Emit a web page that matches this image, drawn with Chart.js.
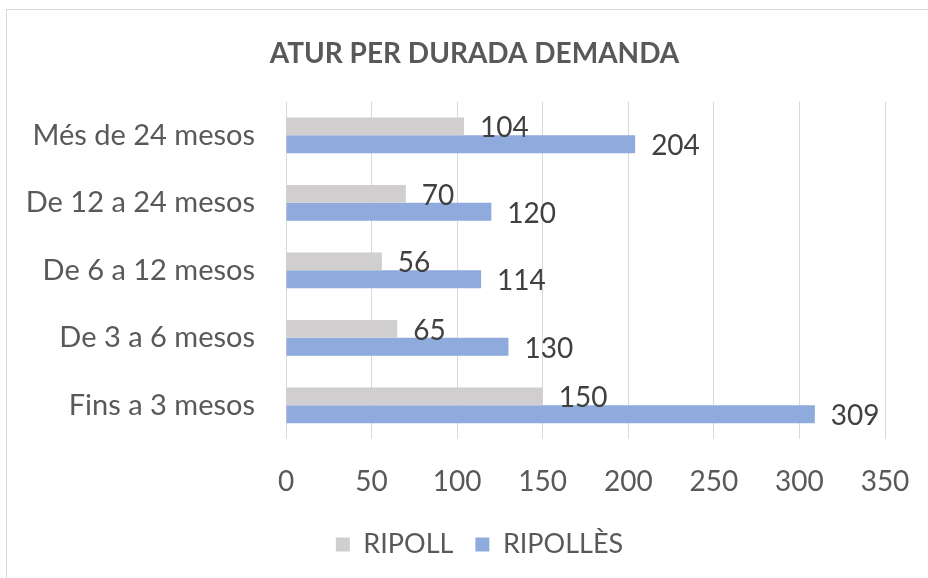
<!DOCTYPE html>
<html>
<head>
<meta charset="utf-8">
<script src="https://cdn.jsdelivr.net/npm/chart.js@4"></script>
<style>
  html, body { margin: 0; padding: 0; background: #fff; }
  #wrap { width: 928px; height: 578px; }
</style>
</head>
<body>
<div id="wrap"><canvas id="chart" width="928" height="578"></canvas></div>
<script>
const categories = ["Més de 24 mesos", "De 12 a 24 mesos", "De 6 a 12 mesos", "De 3 a 6 mesos", "Fins a 3 mesos"];
const ripoll = [104, 70, 56, 65, 150];
const ripolles = [204, 120, 114, 130, 309];
const xTicks = [0, 50, 100, 150, 200, 250, 300, 350];

const FONT = "Lato, 'Open Sans', sans-serif";

// light frame round the whole chart
const framePlugin = {
  id: "frame",
  beforeDraw(chart) {
    const c = chart.ctx;
    c.save();
    c.fillStyle = "#ffffff";
    c.fillRect(0, 0, chart.width, chart.height);
    c.strokeStyle = "#d9d9d9";
    c.lineWidth = 1;
    c.strokeRect(6.5, 9.5, chart.width, chart.height);
    c.restore();
  }
};

// title and legend sit a bit right of the canvas centre in the original
const nudgePlugin = {
  id: "nudge",
  afterLayout(chart) {
    chart.titleBlock.left += 29;
    chart.titleBlock.right += 29;
    chart.legend.left += 34;
    chart.legend.right += 34;
  }
};

// value labels at the outer end of each bar
const valueLabels = {
  id: "valueLabels",
  afterDatasetsDraw(chart) {
    const c = chart.ctx;
    c.save();
    c.font = "28px " + FONT;
    c.fillStyle = "#404040";
    c.textAlign = "left";
    c.textBaseline = "middle";
    chart.data.datasets.forEach((ds, i) => {
      chart.getDatasetMeta(i).data.forEach((bar, j) => {
        c.fillText(String(ds.data[j]), bar.x + 16, bar.y + 2);
      });
    });
    c.restore();
  }
};

new Chart(document.getElementById("chart"), {
  type: "bar",
  data: {
    labels: categories,
    datasets: [
      { label: "RIPOLL", data: ripoll, backgroundColor: "#d0cece" },
      { label: "RIPOLLÈS", data: ripolles, backgroundColor: "#8faadc" }
    ]
  },
  options: {
    indexAxis: "y",
    responsive: false,
    animation: false,
    datasets: { bar: { categoryPercentage: 0.53, barPercentage: 1.0 } },
    layout: { padding: { left: 6, right: 43, top: 0, bottom: 10 } },
    plugins: {
      title: {
        display: true,
        text: "ATUR PER DURADA DEMANDA",
        color: "#595959",
        font: { family: FONT, size: 28, weight: "bold" },
        padding: { top: 37, bottom: 31 }
      },
      legend: {
        position: "bottom",
        labels: {
          color: "#595959",
          font: { family: FONT, size: 27 },
          boxWidth: 14,
          boxHeight: 14,
          padding: 22
        }
      },
      tooltip: { enabled: false }
    },
    scales: {
      x: {
        min: 0,
        max: 350,
        afterBuildTicks(scale) {
          scale.ticks = xTicks.map(v => ({ value: v }));
        },
        afterFit(scale) {
          scale.height = 70;
          scale.paddingLeft = 0;
          scale.paddingRight = 0;
        },
        grid: { color: "#d9d9d9", drawTicks: false },
        border: { display: false },
        ticks: {
          color: "#595959",
          font: { family: FONT, size: 28 },
          padding: 26
        }
      },
      y: {
        afterFit(scale) { scale.width = 280; },
        grid: { display: false, drawTicks: false },
        border: { display: false },
        ticks: {
          color: "#595959",
          font: { family: FONT, size: 29 },
          padding: 31
        }
      }
    }
  },
  plugins: [framePlugin, nudgePlugin, valueLabels]
});
</script>
</body>
</html>
